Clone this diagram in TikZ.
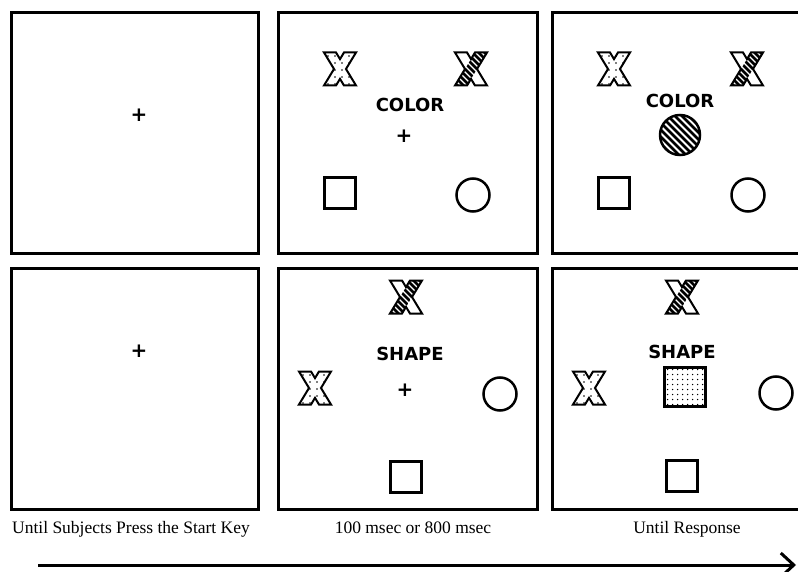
\documentclass[tikz,border=0pt]{standalone}
\usepackage{fontspec}
\setmainfont{Liberation Serif}
\newfontfamily\cuefont{DejaVu Sans}
\usetikzlibrary{arrows.meta,positioning,calc}

% outline of the letter X (centred, y grows downwards)
\newcommand{\xglyphpath}{(-16,-16.5) -- (-4,-16.5) -- (0,-9.9) -- (4,-16.5) -- (16,-16.5) -- (6,0) -- (16,16.5) -- (4,16.5) -- (0,9.9) -- (-4,16.5) -- (-16,16.5) -- (-6,0) -- cycle}
\newcommand{\xslasharm}{(4,-16.5) -- (16,-16.5) -- (-4,16.5) -- (-16,16.5) -- cycle}

\tikzset{
  pics/dotx/.style={code={
    \begin{scope}
      \clip \xglyphpath;
      \foreach \i in {-14,-7,...,14}
        \foreach \j in {-14,-7,...,14}
          \fill (\i+2,\j+1) circle (0.8pt);
    \end{scope}
    \draw[line width=2pt, line join=miter] \xglyphpath;
  }},
  pics/stripex/.style={code={
    \begin{scope}
      \clip \xslasharm;
      \foreach \k in {-42,-36,...,42}
        \draw[line width=2.6pt] (\k-20,-20) -- (\k+20,20);
    \end{scope}
    \draw[line width=2pt, line join=miter] \xglyphpath;
  }}
}

\begin{document}
\begin{tikzpicture}[
  x=1pt, y=-1pt,
  >=Stealth,
  panel/.style={
    draw=black,
    fill=white,
    line width=3pt,
    minimum width=#1,
    minimum height=241pt,
    inner sep=0pt,
    anchor=north west
  },
  fixation/.style={font=\cuefont\bfseries\fontsize{20pt}{20pt}\selectfont, inner sep=0pt},
  cuelabel/.style={font=\cuefont\bfseries\fontsize{18pt}{18pt}\selectfont, inner sep=0pt},
  stimsquare/.style={draw, line width=2.5pt, minimum size=31pt, inner sep=0pt},
  stimcircle/.style={draw, circle, line width=2.5pt, minimum size=33pt, inner sep=0pt},
  targetcircle/.style={
    draw, circle, line width=2.5pt, minimum size=40pt, inner sep=0pt,
    path picture={
      \foreach \k in {-49,-42,...,49}
        \draw[line width=2.8pt] ($(path picture bounding box.center)+(\k-26,-26)$) -- ($(path picture bounding box.center)+(\k+26,26)$);
    }
  },
  targetsquare/.style={
    draw, line width=2.5pt, minimum width=41pt, minimum height=39pt, inner sep=0pt,
    path picture={
      \foreach \i in {-17.5,-12.5,...,18}
        \foreach \j in {-17.5,-12.5,...,18}
          \fill ($(path picture bounding box.center)+(\i,\j)$) circle (0.75pt);
    }
  },
  caption/.style={font=\fontsize{17.5pt}{20pt}\selectfont, inner sep=0pt, anchor=base},
  timeline/.style={line width=3pt, -{Straight Barb[length=13pt, width=24pt]}}
]

  \clip (0,0) rectangle (798,572);

  % ---------------------------------------------------------------------------
  % PANELS
  % ---------------------------------------------------------------------------
  \node[panel=247.5pt] (startA) at (9.5,11) {};
  \node[panel=259pt]   (cueA)   at (277,11) {};
  \node[panel=259pt]   (respA)  at (551,11) {};
  \node[panel=247.5pt] (startB) at (9.5,267) {};
  \node[panel=259pt]   (cueB)   at (277,267) {};
  \node[panel=259pt]   (respB)  at (551,267) {};

  % ---------------------------------------------------------------------------
  % COLOR TRIAL (top row)
  % ---------------------------------------------------------------------------
  \node[fixation] (fixA) at (139,115) {+};

  \pic (dxA) at (340,69) {dotx};
  \pic (sxA) at (471,69) {stripex};
  \node[cuelabel] (colorA) at (410,105) {COLOR};
  \node[fixation] (fixcA) at (404,136) {+};
  \node[stimsquare] (sqA) at (340,193) {};
  \node[stimcircle] (ciA) at (473,195) {};

  \pic (dxR) at (614,69) {dotx};
  \pic (sxR) at (747,69) {stripex};
  \node[cuelabel] (colorR) at (680,101) {COLOR};
  \node[targetcircle] (tgA) at (680,135) {};
  \node[stimsquare] (sqR) at (614,193) {};
  \node[stimcircle] (ciR) at (748,195) {};

  % ---------------------------------------------------------------------------
  % SHAPE TRIAL (bottom row)
  % ---------------------------------------------------------------------------
  \node[fixation] (fixB) at (139,351) {+};

  \pic (sxB) at (406,297) {stripex};
  \node[cuelabel] (shapeB) at (410,354) {SHAPE};
  \pic (dxB) at (315,388) {dotx};
  \node[fixation] (fixcB) at (405,390) {+};
  \node[stimcircle] (ciB) at (500,394) {};
  \node[stimsquare] (sqB) at (406,477) {};

  \pic (sxS) at (682,297) {stripex};
  \node[cuelabel] (shapeS) at (682,352) {SHAPE};
  \pic (dxS) at (589,388) {dotx};
  \node[targetsquare] (tgB) at (685,387) {};
  \node[stimcircle] (ciS) at (776,393) {};
  \node[stimsquare] (sqS) at (682,476) {};

  % ---------------------------------------------------------------------------
  % TIMING CAPTIONS AND TIME ARROW
  % ---------------------------------------------------------------------------
  \node[caption] (capstart) at (131,533) {Until Subjects Press the Start Key};
  \node[caption] (capcue)   at (413,533) {100 msec or 800 msec};
  \node[caption] (capresp)  at (687,533) {Until Response};

  \coordinate (tstart) at (38,565);
  \coordinate (tend) at (796,565);
  \draw[timeline] (tstart) -- (tend);

\end{tikzpicture}
\end{document}
